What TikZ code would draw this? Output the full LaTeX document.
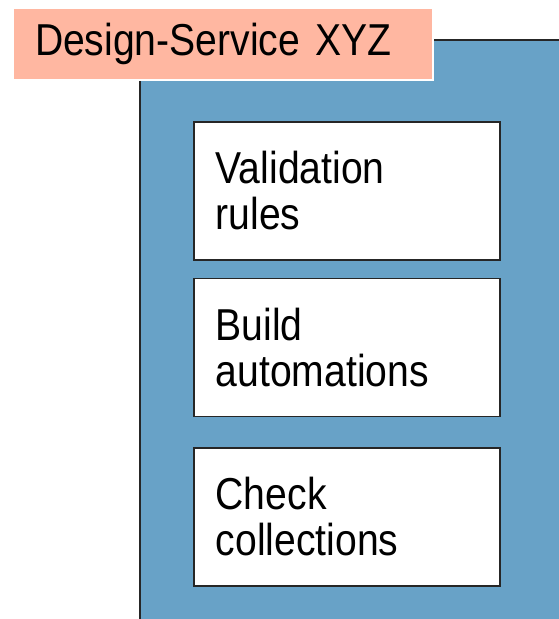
\documentclass[tikz,border=0pt]{standalone}
\usepackage{fontspec}
\setmainfont[FakeStretch=0.875]{Liberation Sans}
\usetikzlibrary{positioning}
\definecolor{svcblue}{RGB}{104,162,199}
\definecolor{svcsalmon}{RGB}{255,183,161}

\begin{document}
\begin{tikzpicture}[x=1pt,y=-1pt,node distance=17pt,
    big/.style={font=\fontsize{44.7}{46}\selectfont},
    part/.style={big,draw=black!85,line width=1.5pt,fill=white,minimum width=306pt,
      minimum height=138pt,text width=262pt,inner xsep=22pt,align=left},
    service/.style={draw=black!85,line width=2pt,fill=svcblue,minimum width=440pt,
      minimum height=600pt},
    title/.style={big,draw=white,line width=2pt,fill=svcsalmon,minimum width=420pt,
      minimum height=72pt,text width=376pt,inner xsep=22pt,align=left}]
    \useasboundingbox (0,0) rectangle (559,619);
    \clip (0,0) rectangle (559,619);
    \node[service,anchor=north west] (svc) at (139,39) {};
    \node[title,anchor=north west] (name) at (12,7) {Design-Service XYZ};
    \node[part,anchor=north west] (rules) at (193,121) {Validation\\rules};
    \node[part,below=of rules] (build) {Build\\automations};
    \node[part,below=30pt of build] (checks) {Check\\collections};
\end{tikzpicture}
\end{document}
